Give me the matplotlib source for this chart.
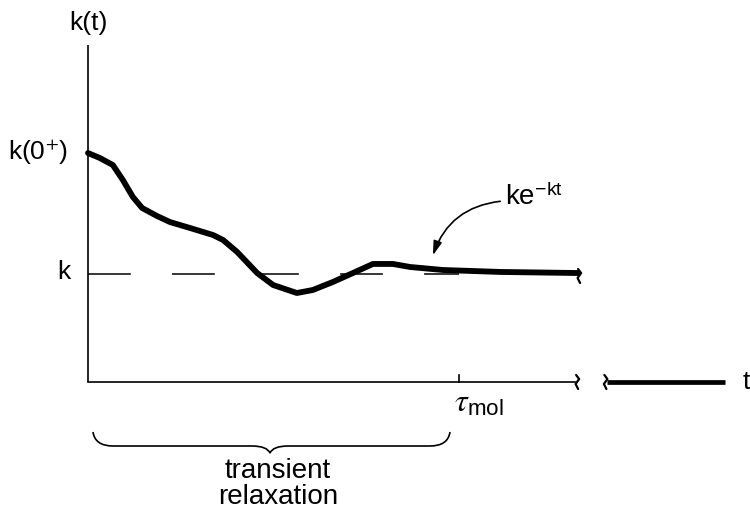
import numpy as np
import matplotlib.pyplot as plt
from matplotlib.path import Path
from matplotlib.patches import PathPatch, FancyArrowPatch

plt.rcParams['font.family'] = ['Liberation Sans', 'DejaVu Sans']
plt.rcParams['mathtext.fontset'] = 'stix'

# k(t) sketch, t in units of tau_mol, k(t) in units of k
t_curve = [0.0, 0.032, 0.067, 0.094, 0.121, 0.146, 0.186, 0.221, 0.275, 0.337,
           0.364, 0.402, 0.456, 0.499, 0.563, 0.606, 0.660, 0.714, 0.768, 0.822,
           0.868, 0.957, 1.111, 1.321]
k_curve = [2.12, 2.074, 2.009, 1.870, 1.713, 1.611, 1.537, 1.481, 1.426, 1.361,
           1.315, 1.204, 1.009, 0.898, 0.824, 0.852, 0.926, 1.009, 1.093, 1.093,
           1.065, 1.037, 1.019, 1.009]
k_eq = 1.0
k0 = 2.12
tau_mol = 1.0
t_axis_end = 1.313
t_tail = [1.40, 1.717]

fig = plt.figure(figsize=(7.5, 5.08), dpi=100)
ax = fig.add_axes([0, 0, 1, 1])
ax.set_xlim(-88 / 371, (750 - 88) / 371)
ax.set_ylim(-126 / 108, (508 - 126) / 108)
ax.axis('off')

px = 1 / 371  # one pixel in t units
py = 1 / 108  # one pixel in k units

# axes
ax.plot([0, 0], [0, 3.12], color='black', lw=1.2, solid_capstyle='butt')
ax.plot([0, t_axis_end], [0, 0], color='black', lw=1.2)
ax.plot([tau_mol, tau_mol], [0, 7 * py], color='black', lw=1.2)
ax.plot(t_tail, [0, 0], color='black', lw=3.4, solid_capstyle='butt')


def squiggle(t0, y0, flip=1):
    xs = [t0 - flip * 1 * px, t0 + flip * 2 * px, t0 - flip * 1.5 * px, t0 + flip * 1 * px]
    ys = [y0 + 7 * py, y0 + 3 * py, y0 - 2 * py, y0 - 7 * py]
    ax.plot(xs, ys, color='black', lw=1.6, solid_capstyle='round')


squiggle(t_axis_end + 2 * px, 0)
squiggle(t_tail[0] - 2 * px, 0)
squiggle(t_curve[-1] + 1 * px, k_curve[-1] - 3 * py)

# equilibrium k, dashed
ax.plot([0, 1.0], [k_eq, k_eq], color='black', lw=1.1,
        dashes=(28, 27))

# k(t)
ax.plot(t_curve, k_curve, color='black', lw=4.2,
        solid_joinstyle='round', solid_capstyle='round')

# labels
fs = 19
ax.text(0.0, (382 - 23) * py, 'k(t)', fontsize=fs, ha='center', va='center')
ax.text(-20 * px, (382 - 152) * py, r'k(0$^{+}$)', fontsize=fs, ha='right', va='center')
ax.text(-18 * px, (382 - 272) * py, 'k', fontsize=fs, ha='right', va='center')
ax.text((743 - 88) * px, 0, 't', fontsize=fs, ha='left', va='center')
ax.text(tau_mol - 5 * px, -22 * py, r'$\tau_{\mathregular{mol}}$', fontsize=fs + 4,
        ha='left', va='center')
ax.text((505 - 88) * px, (382 - 197) * py, r'ke$^{\mathregular{-kt}}$', fontsize=fs + 1,
        ha='left', va='center')

arr = FancyArrowPatch(((503 - 88) * px, (382 - 201) * py),
                      ((432 - 88) * px, (382 - 258) * py),
                      connectionstyle='arc3,rad=0.33',
                      arrowstyle='-|>,head_length=0.6,head_width=0.18',
                      mutation_scale=14, color='black', lw=1.2)
ax.add_patch(arr)

# brace
xl, xr, xm = (93 - 88) * px, (450 - 88) * px, (270 - 88) * px
yt, yb, ytip = (382 - 432) * py, (382 - 446) * py, (382 - 453) * py
verts = [(xl, yt), (xl + 2 * px, yb), (xl + 20 * px, yb),
         (xm - 18 * px, yb), (xm - 3 * px, yb), (xm, ytip),
         (xm + 3 * px, yb), (xm + 18 * px, yb),
         (xr - 20 * px, yb), (xr - 2 * px, yb), (xr, yt)]
codes = [Path.MOVETO, Path.CURVE3, Path.CURVE3,
         Path.LINETO, Path.CURVE3, Path.CURVE3,
         Path.CURVE3, Path.CURVE3,
         Path.LINETO, Path.CURVE3, Path.CURVE3]
ax.add_patch(PathPatch(Path(verts, codes), fill=False, lw=1.2, color='black'))
ax.text(xm + 8 * px, (382 - 484) * py, 'transient\nrelaxation', fontsize=fs + 1,
        ha='center', va='center', linespacing=0.95)

fig.savefig('out.png', dpi=100)
